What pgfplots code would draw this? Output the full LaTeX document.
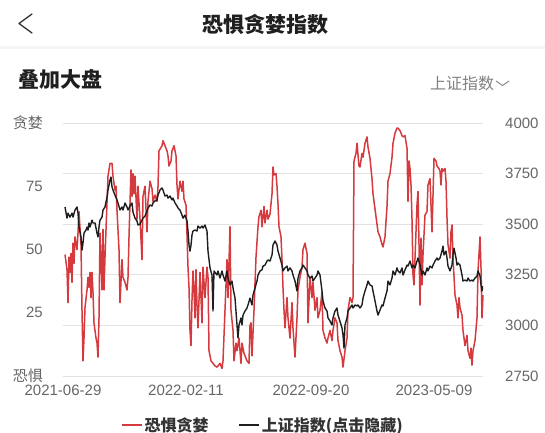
\documentclass[border=0pt]{standalone}
\usepackage{pgfplots}
\pgfplotsset{compat=1.18}
\usepackage{pgfplotstable}
\usepackage{fontspec}
\setmainfont{Liberation Sans}
\newfontfamily\cjk{Noto Sans CJK SC}
\definecolor{fearred}{HTML}{D43A3E}
\definecolor{idxblack}{HTML}{1E1E1E}
\definecolor{labgray}{HTML}{666666}
\definecolor{gridgray}{HTML}{E2E2E2}

\pgfplotstableread{
x v
65 48
67 42
68 29
69 47
70 41
71 48.5
72 37
73 52.5
74 44.5
75 55
77 50
78 56.5
79 65
81 52
82 26
83 6
84 15
85 27
87 34
88 39
89 35
90 41
91 31
92 41
93 33
94 21
96 15
97 13
98 7.5
99 23
100 56.5
101 47
102 34
103 58
104 34
105 47
107 68.5
108 79
110 84
112 84
113 79
115 73.5
116 75
117 65.5
119 50
120 29
122 46
123 39
125 37
127 34
128 39
129 55
131 81.5
132 71
133 80
134 72
135 79
137 62
138 75
140 62
142 46
143 71
145 75
147 57
148 69
150 77
152 74
153 69
155 71.5
157 69
158 75
159 89
162 91
163 93
165 91
167 89
168 87
169 83
171 85
172 89
174 91
176 87
177 75.5
178 70
180 77
182 73
183 77
184 70
186 67.5
187 56
188 43
189 35
190 18
191 12
192 30
193 41.5
194 34
195 23
196 42
197 28
198 19
200 41
202 21
203 43
205 31
207 43
208 39
209 10
211 6
213 5
215 4
217 3.5
220 5
222 3
223 6
225 26
227 46
228 31
230 59
231 26
233 18
234 6
236 13
237 10
239 15
241 5
242 13
244 9
247 6
249 5
250 20
251 21
252 8
254 26
256 47
258 59
259 63
261 65.5
262 59
264 67
265 60.5
267 65.5
268 62
270 64
272 72
273 82.6
274 79.5
276 80
277 75
278 68
279 59
281 55
282 46
283 35
284 26
285 19
287 31
288 23
290 15
292 29
293 19
295 7.5
297 23
298 34
300 39
302 43
303 50
305 52.5
307 48.5
308 21
310 39
312 31
313 37
315 26
317 31
318 23
320 26
322 33
323 18
325 15
327 13
328 15
330 18
332 14
333 18
335 23
337 21
338 14
340 10
342 7.5
343 3.5
345 10
347 15
348 26
350 31
352 29
353 31
354 85
356 88
357 92
359 83
360 82.6
362 88
363 86.5
365 92
367 94.5
368 90.5
370 86
372 78
373 72
375 66
377 60
378 57
380 55
382 52
383 51
385 55
387 67
388 77
390 80
392 86.5
393 92
395 96
397 98
398 98
400 97
402 95
403 94.5
405 95
407 90
408 69
409 85
410 82
411 75.5
412 62
413 40
414 36
415 46.6
417 67.6
418 73
419 52
420 28
421 54.5
422 36
423 48
425 63.6
427 65
428 75.5
430 78
431 67.6
432 57
433 71.5
434 86
436 85
437 83
439 82
440 81
441 75.5
442 82
443 81
445 82
446 77
447 62.5
448 52
450 46.6
451 57
452 59.7
453 46.6
455 32
457 28
458 23
459 31
460 27
462 24
463 18
465 12
467 16
468 10
470 7
471 11
472 4.3
473 10
475 14
477 23
478 41.5
480 55
481 42.7
482 23
483 32
}\feartable

\pgfplotstableread{
x v
65 3585
67 3530
68 3555
70 3535
72 3555
73 3535
75 3570
77 3585
78 3555
79 3486
81 3437
82 3372
83 3407
84 3456
86 3471
87 3486
88 3471
89 3506
90 3486
92 3520
93 3506
95 3506
97 3456
98 3437
99 3486
100 3520
102 3535
103 3570
105 3585
107 3634
108 3669
110 3718
111 3733
112 3684
113 3669
115 3644
117 3619
118 3605
120 3570
122 3585
123 3570
125 3605
127 3585
128 3570
130 3590
132 3605
133 3560
135 3530
137 3516
138 3496
140 3500
142 3520
143 3530
145 3540
147 3565
148 3580
150 3595
152 3590
153 3605
155 3615
157 3620
158 3644
160 3669
162 3679
163 3669
165 3639
167 3644
168 3629
170 3639
172 3620
173 3629
175 3605
177 3590
178 3580
180 3570
182 3545
183 3530
185 3545
187 3516
188 3466
189 3397
190 3367
191 3397
192 3447
193 3466
195 3471
197 3466
198 3491
200 3481
202 3491
203 3481
205 3496
207 3466
208 3367
210 3284
212 3249
213 3071
214 3269
217 3249
218 3269
220 3234
222 3269
223 3249
225 3219
227 3269
228 3234
230 3200
232 3219
233 3185
235 3135
237 3002
238 2938
239 3002
241 3037
242 3002
243 3051
245 3071
247 3086
248 3101
250 3135
252 3101
253 3150
255 3185
257 3219
258 3249
260 3269
262 3274
263 3293
265 3298
267 3318
268 3323
270 3318
272 3348
273 3397
275 3417
277 3397
278 3367
280 3333
282 3298
283 3269
285 3284
287 3293
288 3269
290 3284
292 3269
293 3249
295 3219
297 3170
298 3234
300 3269
302 3284
303 3298
305 3284
307 3269
308 3249
310 3234
312 3244
313 3219
315 3234
317 3249
318 3269
320 3249
322 3170
323 3121
325 3086
327 3071
328 3037
330 3022
332 3002
333 3037
335 3071
337 3086
338 3051
340 3020
342 2987
343 2953
344 2888
345 3002
347 3037
348 3071
350 3086
352 3101
353 3086
355 3101
357 3096
358 3101
360 3086
362 3101
363 3135
365 3170
367 3200
368 3219
370 3200
372 3195
373 3170
375 3121
377 3071
378 3051
380 3076
382 3101
383 3096
385 3135
387 3170
388 3219
390 3200
392 3234
393 3269
395 3249
397 3284
398 3269
400 3259
402 3284
403 3249
405 3274
407 3298
408 3293
410 3318
412 3284
413 3298
415 3284
417 3318
418 3333
420 3298
422 3249
423 3269
425 3249
427 3284
428 3269
430 3293
432 3284
433 3298
435 3318
437 3333
438 3323
440 3333
442 3367
443 3392
444 3348
446 3367
447 3333
448 3293
450 3269
452 3298
453 3348
454 3382
456 3333
457 3298
458 3308
460 3298
462 3249
463 3219
465 3224
467 3219
468 3234
470 3219
472 3224
473 3219
475 3234
477 3244
478 3269
480 3244
481 3200
482 3170
483 3195
}\idxtable

\begin{document}
\begin{tikzpicture}[x=1pt,y=1pt]
\useasboundingbox (0,0) rectangle (545,432);
% header
\draw[line width=1.3pt, color=black!80, line cap=round, line join=round] (32,418) -- (19,408.5) -- (32,399);
\node[font=\cjk\bfseries\fontsize{21}{24}\selectfont, text=black!88] at (265,408) {恐惧贪婪指数};
\fill[black!4] (0,383) rectangle (545,386);
\node[anchor=west, inner sep=0pt, font=\cjk\bfseries\fontsize{21}{24}\selectfont, text=black!88] at (18,353) {叠加大盘};
\node[anchor=west, inner sep=0pt, font=\cjk\fontsize{16}{18}\selectfont, text=black!50] at (430,349) {上证指数};
\draw[line width=0.9pt, color=black!50, line join=round] (496,351) -- (502.5,346.5) -- (509,351);

\begin{axis}[
  at={(63pt,56pt)}, anchor=south west,
  scale only axis, width=420pt, height=253pt,
  xmin=63, xmax=483, ymin=0, ymax=100,
  axis line style={draw=none},
  major tick length=0pt,
  xtick={63,186,311,434},
  xticklabels={2021-06-29,2022-02-11,2022-09-20,2023-05-09},
  xticklabel style={anchor=north, inner sep=0pt, yshift=-9pt, font=\fontsize{15}{17}\selectfont, text=labgray},
  ytick={0,25,50,75,100},
  yticklabels={{\cjk 恐惧},25,50,75,{\cjk 贪婪}},
  yticklabel style={anchor=east, inner sep=0pt, xshift=-20pt, font=\fontsize{15}{17}\selectfont, text=labgray},
  extra y ticks={0,20,40,60,80,100},
  extra y tick labels={},
  extra y tick style={grid=major, major grid style={color=gridgray, line width=0.9pt}},
  clip=false,
]
\addplot[color=fearred, line width=1.5pt, line join=round] table[x=x, y=v] {\feartable};
\end{axis}

\begin{axis}[
  at={(63pt,56pt)}, anchor=south west,
  scale only axis, width=420pt, height=253pt,
  xmin=63, xmax=483, ymin=2750, ymax=4000,
  axis x line=none,
  axis y line*=right,
  axis line style={draw=none},
  major tick length=0pt,
  ytick={2750,3000,3250,3500,3750,4000},
  yticklabels={2750,3000,3250,3500,3750,4000},
  yticklabel style={anchor=west, inner sep=0pt, xshift=22pt, font=\fontsize{15}{17}\selectfont, text=labgray},
  legend style={at={(0.476,-0.194)}, anchor=center, draw=none, fill=none,
    font=\cjk\bfseries\fontsize{16}{18}\selectfont, text=black!80,
    /tikz/every even column/.append style={column sep=28pt},
    /tikz/every odd column/.append style={column sep=0pt}},
  legend columns=2,
  legend cell align=left,
  legend image code/.code={\draw[#1] (0pt,0pt) -- (20pt,0pt);},
]
\addlegendimage{color=fearred, line width=1.5pt}
\addlegendentry{恐惧贪婪}
\addplot[color=idxblack, line width=1.4pt, line join=round] table[x=x, y=v] {\idxtable};
\addlegendentry{上证指数(点击隐藏)}
\end{axis}
\end{tikzpicture}
\end{document}
